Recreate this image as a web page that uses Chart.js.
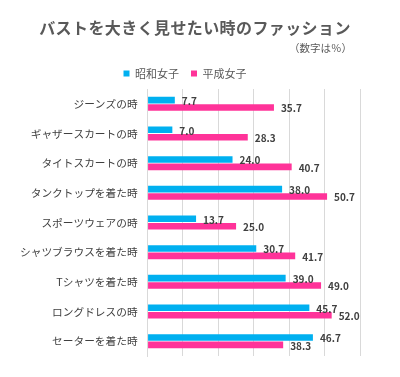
<!DOCTYPE html>
<html lang="ja">
<head>
<meta charset="utf-8">
<script src="https://cdn.jsdelivr.net/npm/chart.js@4/dist/chart.umd.min.js"></script>
<style>
  html, body { margin: 0; padding: 0; background: #fff; }
  #wrap { width: 400px; height: 377px; }
</style>
</head>
<body>
<div id="wrap"><canvas id="chart" width="400" height="377"></canvas></div>
<script>
// データ（数字は%）
const categories = [
  'ジーンズの時',
  'ギャザースカートの時',
  'タイトスカートの時',
  'タンクトップを着た時',
  'スポーツウェアの時',
  'シャツブラウスを着た時',
  'Tシャツを着た時',
  'ロングドレスの時',
  'セーターを着た時'
];
const showaValues = [7.7, 7.0, 24.0, 38.0, 13.7, 30.7, 39.0, 45.7, 46.7];
const heiseiValues = [35.7, 28.3, 40.7, 50.7, 25.0, 41.7, 49.0, 52.0, 38.3];
const seriesNames = ['昭和女子', '平成女子'];
const titleText = 'バストを大きく見せたい時のファッション';
const noteText = '（数字は％）';

const FONT = "'Noto Sans CJK JP', 'Noto Sans', sans-serif";
const TEXT_COLOR = '#595959';

// タイトルと注記（位置を細かく合わせるため自前で描く）
const header = {
  id: 'header',
  afterDraw(chart) {
    const ctx = chart.ctx;
    ctx.save();
    ctx.fillStyle = TEXT_COLOR;
    ctx.textBaseline = 'middle';
    ctx.font = `bold 16px ${FONT}`;
    ctx.letterSpacing = '0.4px';
    ctx.textAlign = 'center';
    ctx.fillText(titleText, 195, 27.5);
    ctx.letterSpacing = '0px';
    ctx.font = `10.5px ${FONT}`;
    ctx.textAlign = 'right';
    ctx.fillText(noteText, 352, 48);
    ctx.restore();
  }
};

// 棒の右に数値を描く
const valueLabels = {
  id: 'valueLabels',
  afterDatasetsDraw(chart) {
    const ctx = chart.ctx;
    ctx.save();
    ctx.font = `bold 10px ${FONT}`;
    ctx.fillStyle = '#404040';
    ctx.textAlign = 'left';
    ctx.textBaseline = 'middle';
    chart.data.datasets.forEach((ds, i) => {
      chart.getDatasetMeta(i).data.forEach((bar, j) => {
        ctx.fillText(ds.data[j].toFixed(1), bar.x + 7, bar.y + 1);
      });
    });
    ctx.restore();
  }
};

new Chart(document.getElementById('chart'), {
  type: 'bar',
  data: {
    labels: categories,
    datasets: [
      {
        label: seriesNames[0],
        data: showaValues,
        backgroundColor: '#00B0F0',
        categoryPercentage: 0.5,
        barPercentage: 0.88
      },
      {
        label: seriesNames[1],
        data: heiseiValues,
        backgroundColor: '#FF3399',
        categoryPercentage: 0.5,
        barPercentage: 0.88
      }
    ]
  },
  options: {
    indexAxis: 'y',
    responsive: false,
    animation: false,
    layout: { padding: { top: 56, left: 10, right: 40, bottom: 21 } },
    plugins: {
      title: { display: false },
      legend: {
        display: true,
        position: 'top',
        labels: {
          color: TEXT_COLOR,
          font: { family: FONT, size: 11 },
          boxWidth: 6,
          boxHeight: 6,
          padding: 12
        }
      },
      tooltip: { enabled: false }
    },
    scales: {
      x: {
        min: 0,
        max: 60,
        ticks: { display: false, stepSize: 10 },
        grid: { color: '#d9d9d9', drawTicks: false },
        border: { display: false }
      },
      y: {
        ticks: {
          color: '#404040',
          font: { family: FONT, size: 10.7 },
          padding: 10
        },
        grid: { display: false, drawTicks: false },
        border: { display: true, color: '#d9d9d9' }
      }
    }
  },
  plugins: [valueLabels, header]
});
</script>
</body>
</html>
